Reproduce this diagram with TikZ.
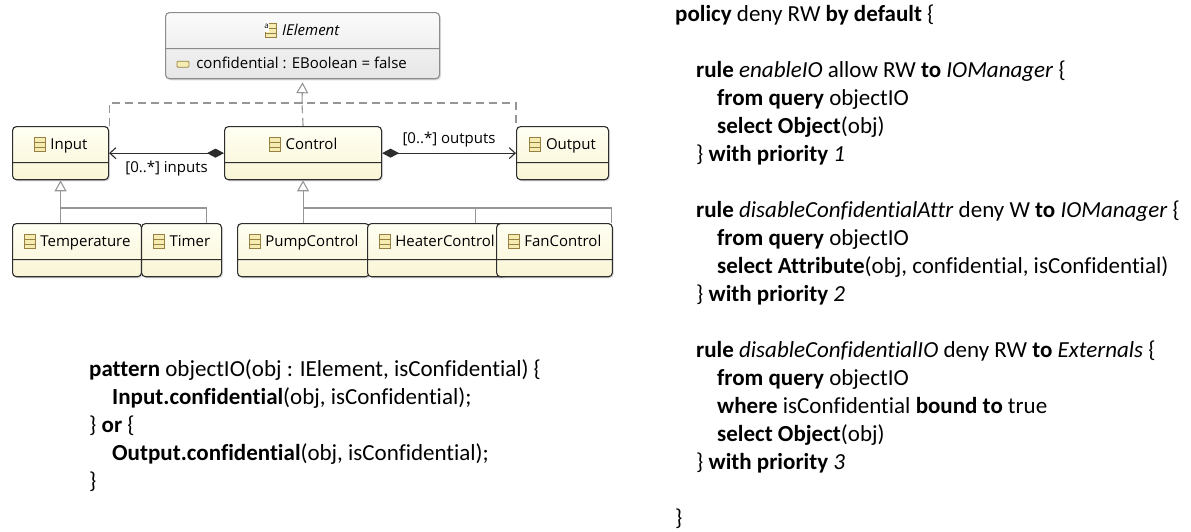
\documentclass[tikz,border=0pt]{standalone}
\usepackage{fontspec}
\usetikzlibrary{shapes.multipart,arrows.meta,shadows}
\newfontfamily\umlfont[Ligatures=NoCommon]{Open Sans}
\newfontfamily\codefont[Ligatures=NoCommon]{Carlito}
\definecolor{umlLine}{RGB}{45,45,45}
\definecolor{clsTop}{RGB}{255,255,243}
\definecolor{clsBottom}{RGB}{249,245,214}
\definecolor{ifcTop}{RGB}{251,251,251}
\definecolor{ifcBottom}{RGB}{230,230,230}
\definecolor{ifcLine}{RGB}{140,140,140}
\definecolor{iconFill}{RGB}{246,236,178}
\definecolor{iconLine}{RGB}{150,128,66}
\definecolor{genGray}{RGB}{150,150,150}

% little EMF-style glyphs used in the class headers
\newcommand{\clsicon}{\tikz[baseline=0pt,x=1pt,y=1pt,sharp corners]{%
  \draw[iconLine,fill=iconFill,line width=.8pt] (0,-2) rectangle (11,12);
  \draw[iconLine,line width=.8pt] (0,2.7) -- (11,2.7) (0,7.3) -- (11,7.3);}}
\newcommand{\absicon}{\clsicon\makebox[0pt][r]{\raisebox{7pt}{\fontsize{8}{8}\selectfont\colorbox{white}{\kern-2.6pt a\kern-2.6pt}}\kern 8pt}}
\newcommand{\attricon}{\tikz[baseline=0pt,x=1pt,y=1pt]{%
  \draw[iconLine,fill=iconFill,line width=.8pt,rounded corners=1pt] (0,1.5) rectangle (12,7.5);}}
\newcommand{\clshead}[2][\clsicon]{\rule[-12.5pt]{0pt}{35pt}#1\hspace{5pt}#2}
\newcommand{\clsfoot}{\rule{0pt}{16pt}}

\tikzset{
  cls/.style={rectangle split, rectangle split parts=2,
    rectangle split part align={center,left}, anchor=north west,
    draw=umlLine, line width=1.1pt, rounded corners=4pt,
    top color=clsTop, bottom color=clsBottom,
    inner xsep=11pt, inner ysep=0pt,
    font=\umlfont\fontsize{15}{18}\selectfont,
    drop shadow={shadow xshift=1.5pt, shadow yshift=-1.5pt, opacity=.25}},
  ifc/.style={cls, draw=ifcLine, top color=ifcTop, bottom color=ifcBottom},
  lbl/.style={font=\umlfont\fontsize{15}{18}\selectfont, inner sep=1pt},
  comp/.style={draw=umlLine, line width=1.1pt,
    {Diamond[length=17pt,width=9pt]}-{Straight Barb[length=6pt,width=11pt]}},
  gen/.style={draw=genGray, line width=1.1pt},
  inherit/.style={gen, -{Triangle[length=11pt,width=12pt,fill=white]}},
  realize/.style={gen, dash pattern=on 8pt off 5pt},
  code/.style={anchor=north west, inner sep=0pt, align=left,
    font=\codefont\fontsize{23}{28}\selectfont}
}

\begin{document}
\begin{tikzpicture}[x=1pt, y=-1pt]
  \fill[white] (0,0) rectangle (1191,531);
  \useasboundingbox (0,0) rectangle (1191,531);

  % class diagram
  \node[ifc, minimum width=274pt] (ie) at (165,12)
    {\clshead[\absicon]{\textit{IElement}}\nodepart{two}\rule[-9.5pt]{0pt}{29pt}\attricon\hspace{7pt}confidential : EBoolean = false};
  \node[cls, minimum width=96pt] (inp) at (12,126) {\clshead{Input}\nodepart{two}\clsfoot};
  \node[cls, minimum width=157pt] (ctl) at (224,126) {\clshead{Control}\nodepart{two}\clsfoot};
  \node[cls, minimum width=92pt] (outp) at (516,126) {\clshead{Output}\nodepart{two}\clsfoot};
  \node[cls, minimum width=128pt] (temp) at (12,223) {\clshead{Temperature}\nodepart{two}\clsfoot};
  \node[cls, minimum width=80pt] (tmr) at (141,223) {\clshead{Timer}\nodepart{two}\clsfoot};
  \node[cls, minimum width=129pt] (pump) at (237,223) {\clshead{PumpControl}\nodepart{two}\clsfoot};
  \node[cls, minimum width=127pt] (heat) at (367,223) {\clshead{HeaterControl}\nodepart{two}\clsfoot};
  \node[cls, minimum width=112pt] (fan) at (496,223) {\clshead{FanControl}\nodepart{two}\clsfoot};

  % interface realisation
  \coordinate (rbar) at (302,103);
  \draw[realize] (inp.north east) |- (rbar) -| (outp.north west);
  \draw[realize] (ctl.north) -- (rbar);
  \draw[inherit] (rbar) -- ([yshift=-3pt]ie.south);

  % containment
  \draw[comp] (ctl.west) -- node[lbl, below=6pt] {[0..*] inputs} (inp.east);
  \draw[comp] (ctl.east) -- node[lbl, above=5pt] {[0..*] outputs} (outp.west);

  % inheritance
  \coordinate (ibar) at (60,208);
  \draw[inherit] (temp.north -| inp.south) -- (inp.south);
  \draw[gen] ([xshift=-16pt]tmr.north east) |- (ibar);
  \draw[inherit] (pump.north -| ctl.south) -- (ctl.south);
  \draw[gen] ([xshift=-31pt]heat.north east) |- (ctl.south |- ibar);
  \draw[gen] ([xshift=-1pt]fan.north east) |- (ctl.south |- ibar);

  % query pattern
  \node[code] (pat) at (89,356.4) {\strut\textbf{pattern} objectIO(obj : IElement, isConfidential) \{\\
    \hspace*{23pt}\textbf{Input.confidential}(obj, isConfidential);\\
    \} \textbf{or} \{\\
    \hspace*{23pt}\textbf{Output.confidential}(obj, isConfidential);\\
    \}};

  % access control policy
  \node[code] (pol) at (675,2.1) {\strut\textbf{policy} deny RW \textbf{by default} \{\\[28pt]
    \hspace*{21pt}\textbf{rule} \textit{enableIO} allow RW \textbf{to} \textit{IOManager} \{\\
    \hspace*{42pt}\textbf{from query} objectIO\\
    \hspace*{42pt}\textbf{select Object}(obj)\\
    \hspace*{21pt}\} \textbf{with priority} \textit{1}\\[28pt]
    \hspace*{21pt}\textbf{rule} \textit{disableConfidentialAttr} deny W \textbf{to} \textit{IOManager} \{\\
    \hspace*{42pt}\textbf{from query} objectIO\\
    \hspace*{42pt}\textbf{select Attribute}(obj, confidential, isConfidential)\\
    \hspace*{21pt}\} \textbf{with priority} \textit{2}\\[28pt]
    \hspace*{21pt}\textbf{rule} \textit{disableConfidentialIO} deny RW \textbf{to} \textit{Externals} \{\\
    \hspace*{42pt}\textbf{from query} objectIO\\
    \hspace*{42pt}\textbf{where} isConfidential \textbf{bound to} true\\
    \hspace*{42pt}\textbf{select Object}(obj)\\
    \hspace*{21pt}\} \textbf{with priority} \textit{3}\\[28pt]
    \}};
\end{tikzpicture}
\end{document}
